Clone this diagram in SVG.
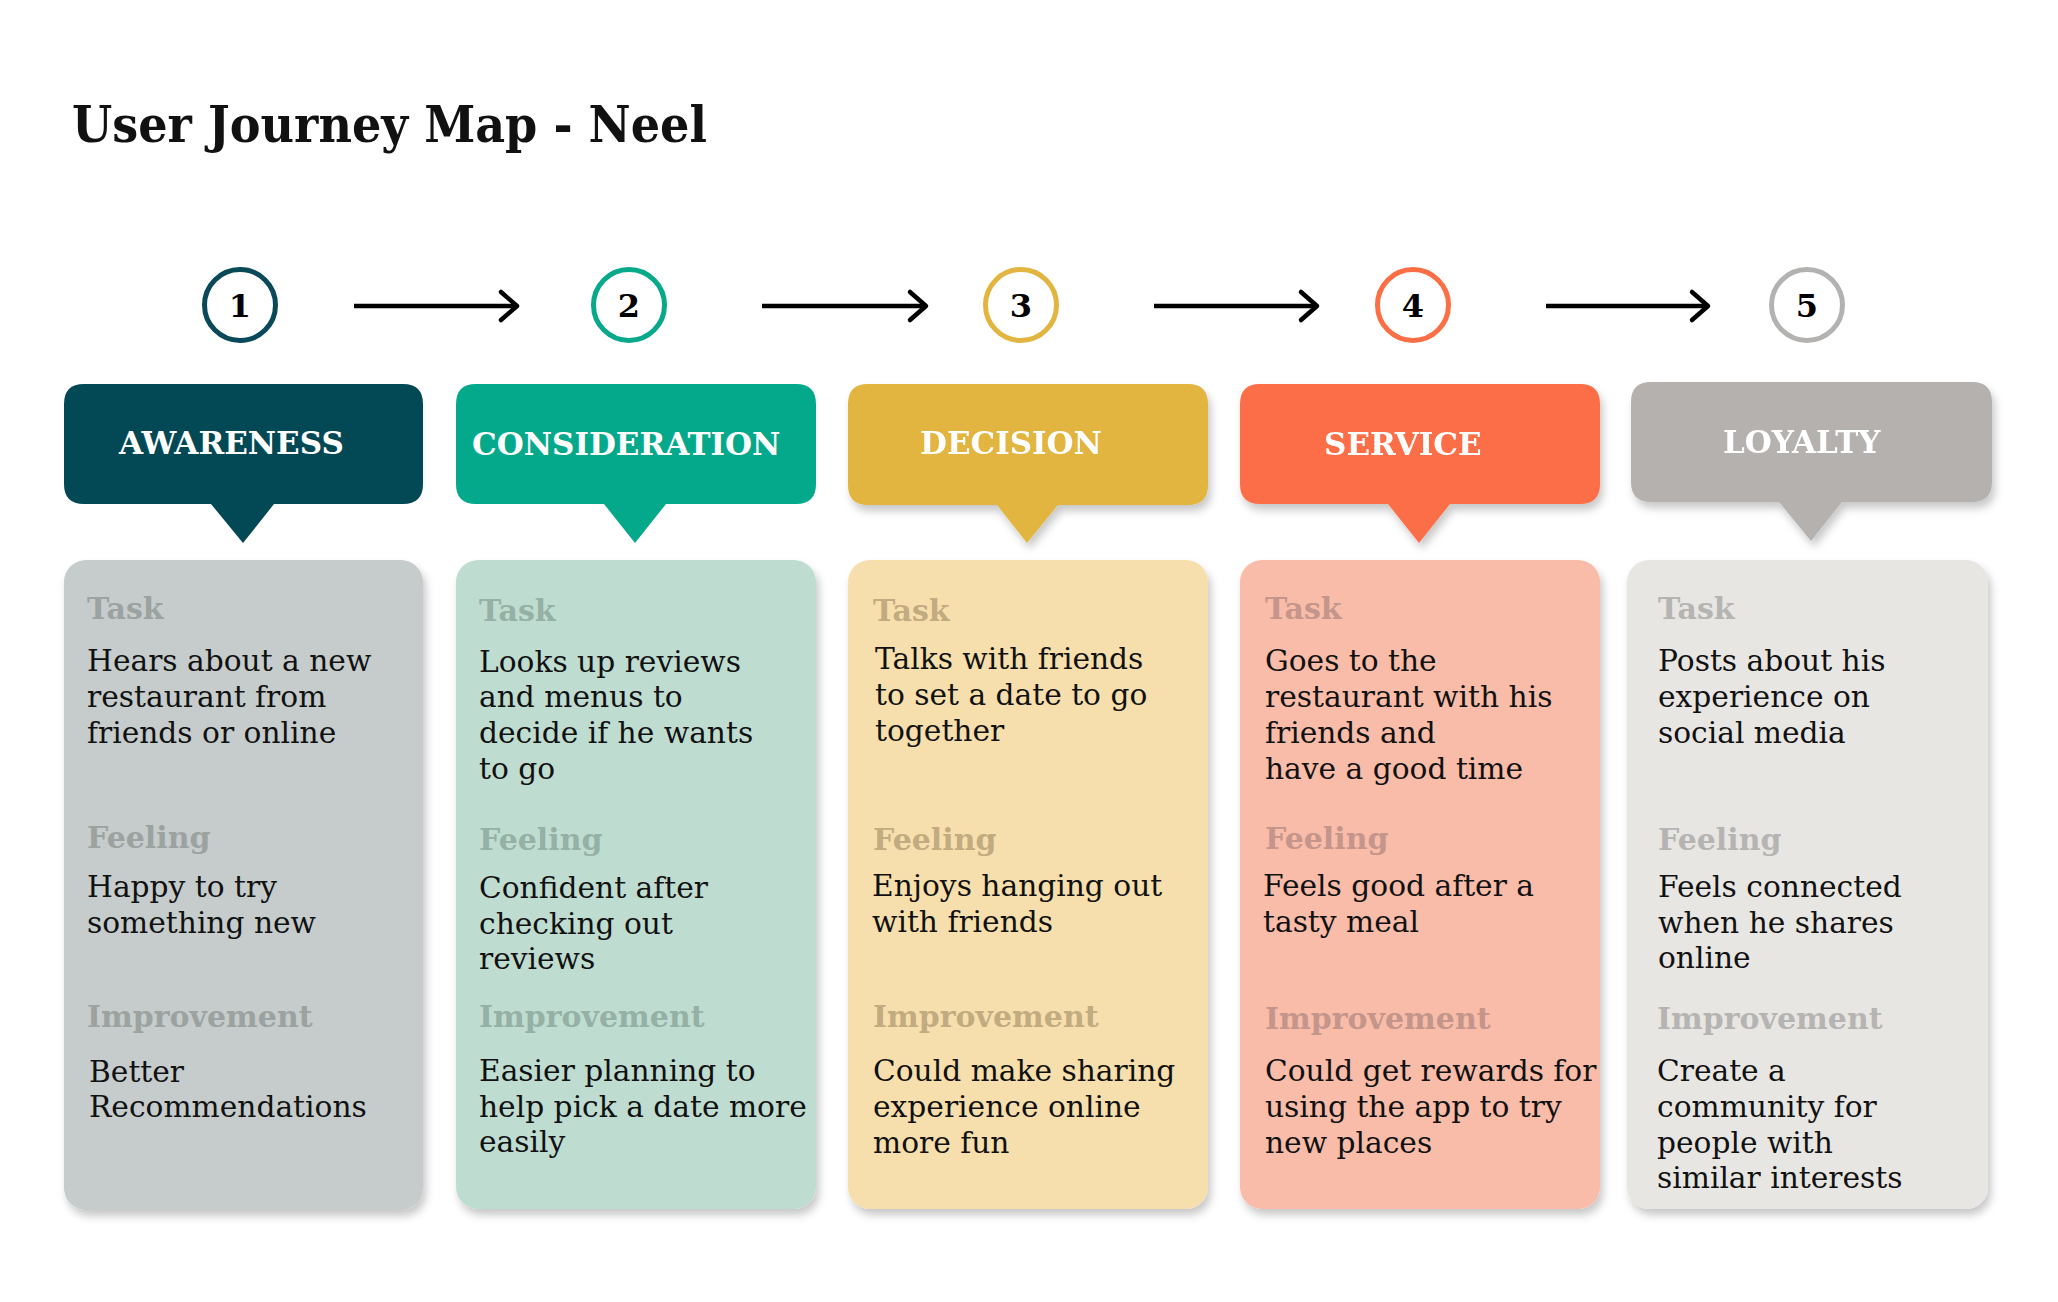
<svg xmlns="http://www.w3.org/2000/svg" width="2058" height="1302" viewBox="0 0 2058 1302">
<defs>
<filter id="sh" x="-10%" y="-10%" width="125%" height="130%">
<feDropShadow dx="3" dy="6" stdDeviation="4" flood-color="#000" flood-opacity="0.22"/>
</filter>
<marker id="arr" markerUnits="userSpaceOnUse" markerWidth="26" markerHeight="40" viewBox="-22 -20 26 40" refX="0" refY="0" orient="auto">
<path d="M-16,-14 L0,0 L-16,14" fill="none" stroke="#000" stroke-width="4.5" stroke-linecap="round" stroke-linejoin="round"/>
</marker>
</defs>
<style>
.title{font-family:"DejaVu Serif Condensed","DejaVu Serif",serif;font-weight:bold;font-size:50px;fill:#111}
.num{font-family:"DejaVu Serif",serif;font-weight:bold;font-size:32px;fill:#000;text-anchor:middle}
.ring{fill:#fff;stroke-width:5}
.hd{font-family:"DejaVu Serif",serif;font-weight:bold;font-size:31px;fill:#fff}
.lb{font-family:"DejaVu Serif",serif;font-weight:bold;font-size:30px}
.bd{font-family:"DejaVu Serif",serif;font-size:29.7px;fill:#111}
.conn{stroke:#000;stroke-width:4.5;fill:none;marker-end:url(#arr)}
</style>
<rect width="2058" height="1302" fill="#fff"/>
<text class="title" x="72" y="142" textLength="635" lengthAdjust="spacingAndGlyphs">User Journey Map - Neel</text>

<g id="connectors">
<line class="conn" x1="354" y1="306" x2="517" y2="306"/>
<line class="conn" x1="762" y1="306" x2="926" y2="306"/>
<line class="conn" x1="1154" y1="306" x2="1317" y2="306"/>
<line class="conn" x1="1546" y1="306" x2="1708" y2="306"/>
</g>

<g id="step1">
<circle class="ring" cx="240" cy="305" r="35.5" stroke="#0a4a58"/>
<text class="num" x="240" y="317">1</text>
</g>
<g id="step2">
<circle class="ring" cx="629" cy="305" r="35.5" stroke="#08a98b"/>
<text class="num" x="629" y="317">2</text>
</g>
<g id="step3">
<circle class="ring" cx="1021" cy="305" r="35.5" stroke="#e1b540"/>
<text class="num" x="1021" y="317">3</text>
</g>
<g id="step4">
<circle class="ring" cx="1413" cy="305" r="35.5" stroke="#fb6e46"/>
<text class="num" x="1413" y="317">4</text>
</g>
<g id="step5">
<circle class="ring" cx="1807" cy="305" r="35.5" stroke="#b4b2b1"/>
<text class="num" x="1807" y="317">5</text>
</g>

<g id="header-awareness">
<path d="M84,384 H403 Q423,384 423,404 V484 Q423,504 403,504 H274 L243,543 L211,504 H84 Q64,504 64,484 V404 Q64,384 84,384 Z" fill="#024855"/>
<text class="hd" x="119" y="454">AWARENESS</text>
</g>
<g id="header-consideration">
<path d="M476,384 H796 Q816,384 816,404 V484 Q816,504 796,504 H666 L635,543 L604,504 H476 Q456,504 456,484 V404 Q456,384 476,384 Z" fill="#03a98a"/>
<text class="hd" x="472" y="455">CONSIDERATION</text>
</g>
<g id="header-decision" filter="url(#sh)">
<path d="M868,384 H1188 Q1208,384 1208,404 V485 Q1208,505 1188,505 H1058 L1027,543 L997,505 H868 Q848,505 848,485 V404 Q848,384 868,384 Z" fill="#e1b540"/>
<text class="hd" x="920" y="454">DECISION</text>
</g>
<g id="header-service" filter="url(#sh)">
<path d="M1260,384 H1580 Q1600,384 1600,404 V484 Q1600,504 1580,504 H1450 L1419,543 L1388,504 H1260 Q1240,504 1240,484 V404 Q1240,384 1260,384 Z" fill="#fb6e46"/>
<text class="hd" x="1324" y="455">SERVICE</text>
</g>
<g id="header-loyalty" filter="url(#sh)">
<path d="M1651,382 H1972 Q1992,382 1992,402 V482 Q1992,502 1972,502 H1842 L1811,541 L1779,502 H1651 Q1631,502 1631,482 V402 Q1631,382 1651,382 Z" fill="#b5b1af"/>
<text class="hd" x="1723" y="453">LOYALTY</text>
</g>

<g id="card-awareness">
<rect x="64" y="560" width="359" height="650" rx="22" fill="#c5cccb" filter="url(#sh)"/>
<g class="lb" fill="#9ca2a0">
<text x="87" y="619">Task</text>
<text x="87" y="848">Feeling</text>
<text x="87" y="1027">Improvement</text>
</g>
<text class="bd" x="87" y="671">Hears about a new</text>
<text class="bd" x="87" y="707">restaurant from</text>
<text class="bd" x="87" y="743">friends or online</text>
<text class="bd" x="87" y="897">Happy to try</text>
<text class="bd" x="87" y="933">something new</text>
<text class="bd" x="89" y="1082">Better</text>
<text class="bd" x="89" y="1117">Recommendations</text>
</g>

<g id="card-consideration">
<rect x="456" y="560" width="360" height="649" rx="22" fill="#bfdcd1" filter="url(#sh)"/>
<g class="lb" fill="#95b0a5">
<text x="479" y="621">Task</text>
<text x="479" y="850">Feeling</text>
<text x="479" y="1027">Improvement</text>
</g>
<text class="bd" x="479" y="672">Looks up reviews</text>
<text class="bd" x="479" y="707">and menus to</text>
<text class="bd" x="479" y="743">decide if he wants</text>
<text class="bd" x="479" y="779">to go</text>
<text class="bd" x="479" y="898">Confident after</text>
<text class="bd" x="479" y="934">checking out</text>
<text class="bd" x="479" y="969">reviews</text>
<text class="bd" x="479" y="1081">Easier planning to</text>
<text class="bd" x="479" y="1117">help pick a date more</text>
<text class="bd" x="479" y="1152">easily</text>
</g>

<g id="card-decision">
<rect x="848" y="560" width="360" height="649" rx="22" fill="#f6dfac" filter="url(#sh)"/>
<g class="lb" fill="#c2ab80">
<text x="873" y="621">Task</text>
<text x="873" y="850">Feeling</text>
<text x="873" y="1027">Improvement</text>
</g>
<text class="bd" x="875" y="669">Talks with friends</text>
<text class="bd" x="875" y="705">to set a date to go</text>
<text class="bd" x="875" y="741">together</text>
<text class="bd" x="872" y="896">Enjoys hanging out</text>
<text class="bd" x="872" y="932">with friends</text>
<text class="bd" x="873" y="1081">Could make sharing</text>
<text class="bd" x="873" y="1117">experience online</text>
<text class="bd" x="873" y="1153">more fun</text>
</g>

<g id="card-service">
<rect x="1240" y="560" width="360" height="649" rx="22" fill="#f8bca9" filter="url(#sh)"/>
<g class="lb" fill="#c4958a">
<text x="1265" y="619">Task</text>
<text x="1265" y="849">Feeling</text>
<text x="1265" y="1029">Improvement</text>
</g>
<text class="bd" x="1265" y="671">Goes to the</text>
<text class="bd" x="1265" y="707">restaurant with his</text>
<text class="bd" x="1265" y="743">friends and</text>
<text class="bd" x="1265" y="779">have a good time</text>
<text class="bd" x="1263" y="896">Feels good after a</text>
<text class="bd" x="1263" y="932">tasty meal</text>
<text class="bd" x="1265" y="1081">Could get rewards for</text>
<text class="bd" x="1265" y="1117">using the app to try</text>
<text class="bd" x="1265" y="1153">new places</text>
</g>

<g id="card-loyalty">
<rect x="1627" y="560" width="361" height="649" rx="22" fill="#e7e6e3" filter="url(#sh)"/>
<g class="lb" fill="#b6b4b2">
<text x="1658" y="619">Task</text>
<text x="1658" y="850">Feeling</text>
<text x="1657" y="1029">Improvement</text>
</g>
<text class="bd" x="1658" y="671">Posts about his</text>
<text class="bd" x="1658" y="707">experience on</text>
<text class="bd" x="1658" y="743">social media</text>
<text class="bd" x="1658" y="897">Feels connected</text>
<text class="bd" x="1658" y="933">when he shares</text>
<text class="bd" x="1658" y="968">online</text>
<text class="bd" x="1657" y="1081">Create a</text>
<text class="bd" x="1657" y="1117">community for</text>
<text class="bd" x="1657" y="1153">people with</text>
<text class="bd" x="1657" y="1188">similar interests</text>
</g>
</svg>
